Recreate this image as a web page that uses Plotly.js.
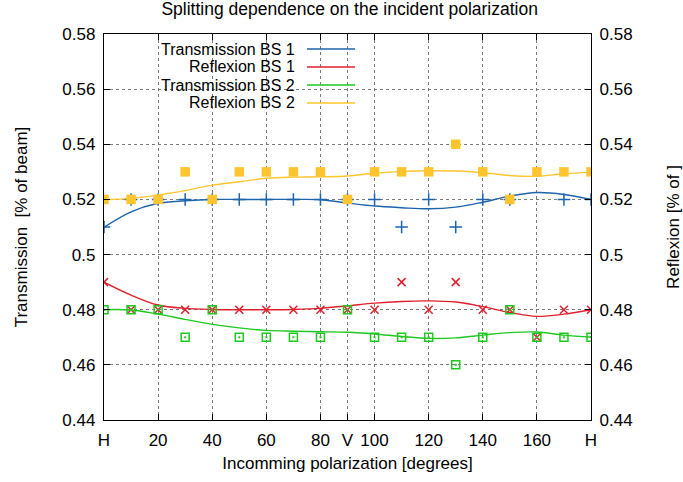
<!DOCTYPE html>
<html>
<head>
<meta charset="utf-8">
<script src="https://cdn.plot.ly/plotly-3.0.1.min.js"></script>
<style>
  html, body { margin: 0; padding: 0; background: #fff; }
  #chart { width: 683px; height: 482px; }
</style>
</head>
<body>
<div id="chart"></div>
<script>
// Measured angles (degrees of incoming polarization)
const angles = [0, 10, 20, 30, 40, 50, 60, 70, 80, 90, 100, 110, 120, 130, 140, 150, 160, 170, 180];

// Measured splitting ratios
const transBS1 = [0.51, 0.52, 0.52, 0.52, 0.52, 0.52, 0.52, 0.52, 0.52, 0.52, 0.52, 0.51, 0.52, 0.51, 0.52, 0.52, null, 0.52, 0.52];
const reflBS1  = [0.49, 0.48, 0.48, 0.48, 0.48, 0.48, 0.48, 0.48, 0.48, 0.48, 0.48, 0.49, 0.48, 0.49, 0.48, 0.48, 0.47, 0.48, 0.48];
const transBS2 = [0.48, 0.48, 0.48, 0.47, 0.48, 0.47, 0.47, 0.47, 0.47, 0.48, 0.47, 0.47, 0.47, 0.46, 0.47, 0.48, 0.47, 0.47, 0.47];
const reflBS2  = [0.52, 0.52, 0.52, 0.53, 0.52, 0.53, 0.53, 0.53, 0.53, 0.52, 0.53, 0.53, 0.53, 0.54, 0.53, 0.52, 0.53, 0.53, 0.53];

// Smoothed fit curves, sampled on the same angles
const fitTransBS1 = [0.5099, 0.5155, 0.5186, 0.5195, 0.5200, 0.5200, 0.5200, 0.5200, 0.5199, 0.5187, 0.5176, 0.5170, 0.5166, 0.5172, 0.5190, 0.5212, 0.5225, 0.5218, 0.5200];
const fitReflBS1  = [0.4900, 0.4853, 0.4817, 0.4805, 0.4801, 0.4800, 0.4800, 0.4801, 0.4805, 0.4814, 0.4824, 0.4830, 0.4832, 0.4828, 0.4811, 0.4790, 0.4776, 0.4784, 0.4800];
const fitTransBS2 = [0.4800, 0.4799, 0.4784, 0.4765, 0.4747, 0.4734, 0.4725, 0.4722, 0.4720, 0.4718, 0.4712, 0.4703, 0.4696, 0.4698, 0.4708, 0.4717, 0.4719, 0.4708, 0.4701];
const fitReflBS2  = [0.5200, 0.5204, 0.5216, 0.5232, 0.5252, 0.5264, 0.5277, 0.5281, 0.5282, 0.5285, 0.5295, 0.5301, 0.5304, 0.5303, 0.5297, 0.5287, 0.5284, 0.5293, 0.5298];

// Axis ticks
const xTickVals = [0, 20, 40, 60, 80, 90, 100, 120, 140, 160, 180];
const xTickText = ['H', '20', '40', '60', '80', 'V', '100', '120', '140', '160', 'H'];
const yTickVals = [0.44, 0.46, 0.48, 0.50, 0.52, 0.54, 0.56, 0.58];
const yTickText = ['0.44', '0.46', '0.48', '0.5', '0.52', '0.54', '0.56', '0.58'];

const seriesNames = ['Transmission BS 1', 'Reflexion BS 1', 'Transmission BS 2', 'Reflexion BS 2'];
const colors = ['#1d64ad', '#e0202e', '#1ec81e', '#ffc52e'];

const FONT = 'Liberation Sans, Arial, Helvetica, sans-serif';
const FS = 17;

function pts(y, color, symbol, size, filled) {
  return {
    x: angles, y: y, type: 'scatter', mode: 'markers', showlegend: false,
    hoverinfo: 'skip',
    marker: filled
      ? { symbol: symbol, size: size, color: color, line: { width: 0 } }
      : { symbol: symbol, size: size, color: color, line: { width: 1.5, color: color } }
  };
}
function fit(y, color) {
  return {
    x: angles, y: y, type: 'scatter', mode: 'lines', showlegend: false,
    hoverinfo: 'skip',
    line: { color: color, width: 1.4, shape: 'spline', smoothing: 1 }
  };
}

const traces = [
  pts(transBS1, colors[0], 'cross-thin-open', 9, false),
  fit(fitTransBS1, colors[0]),
  pts(reflBS1, colors[1], 'x-thin-open', 8, false),
  fit(fitReflBS1, colors[1]),
  pts(transBS2, colors[2], 'square-open', 8, false),
  pts(transBS2, colors[2], 'square', 2, true),
  fit(fitTransBS2, colors[2]),
  pts(reflBS2, colors[3], 'square', 9.5, true),
  fit(fitReflBS2, colors[3]),
  // right-hand axis carries the same scale
  { x: [0], y: [0.5], yaxis: 'y2', type: 'scatter', mode: 'markers',
    marker: { opacity: 0 }, showlegend: false, hoverinfo: 'skip' }
];

// Key drawn gnuplot-style: right-aligned text, line sample after it
const keyRowsY = [49, 67, 85, 103];
const H = 482, W = 683;
const shapes = [
  { type: 'rect', xref: 'paper', yref: 'paper', layer: 'between',
    x0: 0.003, x1: (358 - 104) / 487, y0: 1 - (112 - 34) / 386, y1: 1 - (39 - 34) / 386,
    fillcolor: '#ffffff', line: { width: 0 } }
];
const annotations = [];
seriesNames.forEach((name, i) => {
  const yp = 1 - (keyRowsY[i] - 34) / 386;
  annotations.push({
    xref: 'paper', yref: 'paper', x: (296 - 104) / 487, y: yp,
    xanchor: 'right', yanchor: 'middle', showarrow: false, text: name,
    borderpad: 0,
    font: { family: FONT, size: 16, color: '#000' }
  });
  shapes.push({
    type: 'line', xref: 'paper', yref: 'paper', layer: 'above',
    x0: (307 - 104) / 487, x1: (355 - 104) / 487, y0: yp, y1: yp,
    line: { color: colors[i], width: 1.4 }
  });
});

const axisCommon = {
  showline: true, linecolor: '#000', linewidth: 1.2,
  ticks: 'inside', ticklen: 6, tickwidth: 1, tickcolor: '#000',
  showgrid: true, gridcolor: '#7a7a7a', griddash: 'dot', gridwidth: 1,
  zeroline: false,
  tickfont: { family: FONT, size: FS, color: '#000' }
};

const layout = {
  width: W, height: H,
  margin: { l: 104, r: 92, t: 34, b: 62 },
  paper_bgcolor: '#fff', plot_bgcolor: '#fff',
  showlegend: false,
  title: {
    text: 'Splitting dependence on the incident polarization',
    font: { family: FONT, size: 17.5, color: '#000' },
    x: 0.512, xanchor: 'center', y: 0.982, yanchor: 'middle'
  },
  xaxis: Object.assign({}, axisCommon, {
    range: [0, 180], mirror: 'ticks',
    tickmode: 'array', tickvals: xTickVals, ticktext: xTickText,
    ticklabelstandoff: 4,
    title: { text: 'Incomming polarization [degrees]', standoff: 8,
             font: { family: FONT, size: FS, color: '#000' } }
  }),
  yaxis: Object.assign({}, axisCommon, {
    range: [0.44, 0.58], mirror: 'ticks',
    tickmode: 'array', tickvals: yTickVals, ticktext: yTickText,
    ticklabelstandoff: 4,
    title: { text: 'Transmission  [% of beam]', standoff: 30,
             font: { family: FONT, size: FS, color: '#000' } }
  }),
  yaxis2: Object.assign({}, axisCommon, {
    overlaying: 'y', side: 'right', range: [0.44, 0.58],
    showgrid: false,
    tickmode: 'array', tickvals: yTickVals, ticktext: yTickText,
    ticklabelstandoff: 4,
    title: { text: 'Reflexion [% of ]', standoff: 35,
             font: { family: FONT, size: FS, color: '#000' } }
  }),
  shapes: shapes,
  annotations: annotations
};

Plotly.newPlot('chart', traces, layout, { displayModeBar: false, staticPlot: true });
</script>
</body>
</html>
